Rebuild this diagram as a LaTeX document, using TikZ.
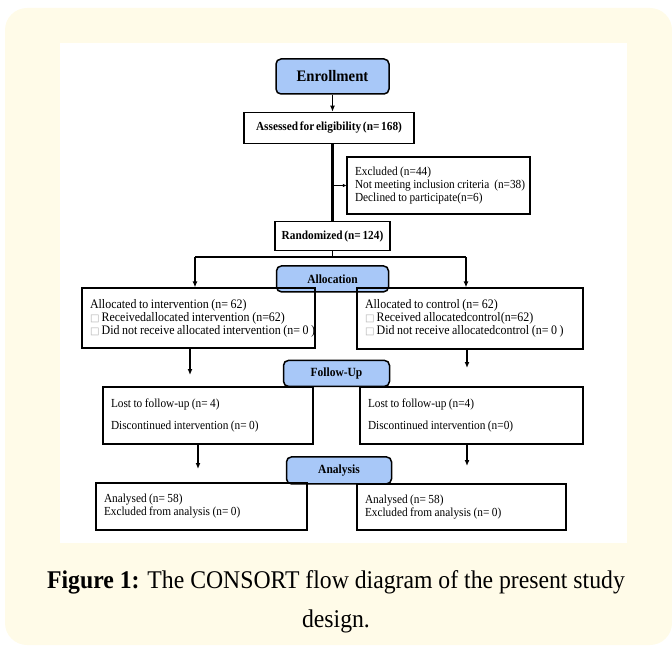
\documentclass[tikz,border=0pt]{standalone}
\usepackage{fontspec}
\setmainfont{Liberation Serif}
\newfontfamily\flowfont{Liberation Serif}[FakeStretch=0.92, WordSpace=0.6]
\newfontfamily\capfont{Liberation Serif}[FakeStretch=0.93]
\newfontfamily\symfont{DejaVu Sans}
\usetikzlibrary{positioning,arrows.meta}
\definecolor{cream}{RGB}{255,251,232}
\definecolor{phaseblue}{RGB}{168,200,248}
\newcommand{\sqbox}{{\symfont\color{black!30}\fontsize{10}{10}\selectfont □}\,}

\begin{document}
\begin{tikzpicture}[x=1pt, y=-1pt, line width=1.4pt, >={Latex[length=6pt,width=5pt]},
    main/.style = {draw, rectangle, line width=1.2pt, inner xsep=8pt, inner ysep=0pt, align=left, font=\flowfont\fontsize{12.3}{13}\selectfont, execute at begin node={\spaceskip=0.2em\relax}},
    head/.style = {draw, rectangle, line width=1.2pt, inner sep=0pt, align=center, font=\flowfont\bfseries\fontsize{12.3}{13}\selectfont},
    phase/.style = {draw, rectangle, rounded corners=5pt, fill=phaseblue, line width=1.5pt, inner sep=0pt, font=\flowfont\bfseries\fontsize{12.5}{13}\selectfont}
    ]
\useasboundingbox (0,0) rectangle (672,647);
\fill[cream, rounded corners=22pt] (5,8) rectangle (672,645);
\fill[white] (60,43) rectangle (627,543);

\node[phase, minimum width=113pt, minimum height=35pt, font=\flowfont\bfseries\fontsize{16}{16}\selectfont] (0) at (332.5,76.5) {Enrollment};
\node[head, minimum width=170pt, minimum height=31pt] (1) [below=17pt of 0, xshift=-3.5pt] {Assessed for eligibility (n= 168)};
\node[main, text width=167pt, minimum height=57pt] (2) at (438.5,185.5) {Excluded (n=44)\\\mbox{Not meeting inclusion criteria\ \ (n=38)}\\Declined to participate(n=6)};
\node[head, minimum width=115pt, minimum height=29pt] (3) [below=77pt of 1, xshift=3.5pt] {Randomized (n= 124)};
\node[phase, minimum width=112pt, minimum height=26pt] (4) [below=14pt of 3] {Allocation};
\node[main, text width=217pt, minimum height=60pt, font=\flowfont\fontsize{13}{13}\selectfont] (5) at (198.5,318) {Allocated to intervention (n= 62)\\\mbox{\sqbox Receivedallocated intervention (n=62)}\\\mbox{\sqbox Did not receive allocated intervention (n= 0 )}};
\node[main, text width=210pt, minimum height=61pt, font=\flowfont\fontsize{13}{13}\selectfont] (6) at (470,318.5) {Allocated to control (n= 62)\\\mbox{\sqbox Received allocatedcontrol(n=62)}\\\mbox{\sqbox Did not receive allocatedcontrol (n= 0 )}};
\node[phase, minimum width=106pt, minimum height=26pt] (7) [below=67pt of 4, xshift=4pt] {Follow-Up};
\node[main, text width=194pt, minimum height=57pt] (8) at (208,415.5) {Lost to follow-up (n= 4)\\[9pt]Discontinued intervention (n= 0)};
\node[main, text width=207pt, minimum height=57pt] (9) at (471.5,415.5) {Lost to follow-up (n=4)\\[9pt]Discontinued intervention (n=0)};
\node[phase, minimum width=105pt, minimum height=27pt] (10) [below=69pt of 7, xshift=2.5pt] {Analysis};
\node[main, text width=195pt, minimum height=47pt] (11) at (201.5,506.5) {Analysed (n= 58)\\Excluded from analysis (n= 0)};
\node[main, text width=193pt, minimum height=46pt] (12) at (461.5,507) {Analysed (n= 58)\\Excluded from analysis (n= 0)};
\node[align=center, font=\capfont\fontsize{25.5}{39}\selectfont] (13) at (336,602) {\textbf{Figure 1:} The CONSORT flow diagram of the present study\\design.};

\coordinate (j1) at (195,257);
\coordinate (j2) at (466,257);
\coordinate (e1) at (190,375);
\coordinate (e2) at (467,368);
\coordinate (e3) at (198,469);
\coordinate (e4) at (467,466);

\draw[->] (0.south) -- (0.south |- 1.north);
\draw[line width=2.4pt] (3.north |- 1.south) -- (3.north);
\draw[-{Latex[length=3.5pt,width=3.5pt]}, line width=0.6pt] (3.north |- 2.west) -- (2.west);
\draw[-] (3.south) -- (3.south |- j1);
\draw[-] (j1) -- (j2);
\draw[->] (j1) -- (j1 |- 5.north);
\draw[->] (j2) -- (j2 |- 6.north);
\draw[->] (5.south -| e1) -- (e1);
\draw[->] (6.south -| e2) -- (e2);
\draw[->] (8.south -| e3) -- (e3);
\draw[->] (9.south -| e4) -- (e4);

\end{tikzpicture}
\end{document}
